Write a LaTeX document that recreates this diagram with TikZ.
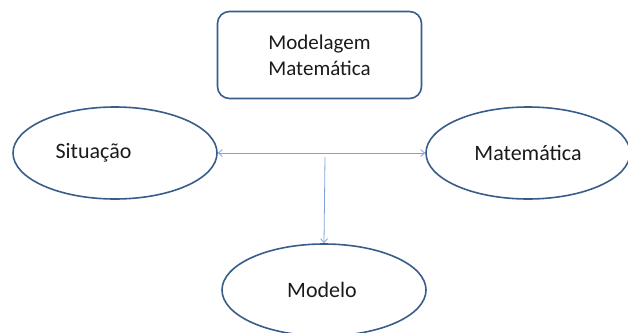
\documentclass[tikz,border=0pt]{standalone}
\usepackage{fontspec}
\setmainfont{Carlito}
\usetikzlibrary{shapes.geometric,arrows.meta}
\definecolor{edgeblue}{HTML}{385D8A}
\definecolor{linkblue}{HTML}{7FA3D6}
\definecolor{txt}{HTML}{1A1A1A}
\begin{document}
\begin{tikzpicture}[x=1pt,y=-1pt,
  oval/.style={ellipse, draw=edgeblue, line width=1.6pt, minimum width=204pt, minimum height=92pt, inner sep=0pt, font=\fontsize{22}{26}\selectfont, text=txt},
  titlebox/.style={rectangle, rounded corners=12pt, draw=edgeblue, line width=1.6pt, minimum width=204pt, minimum height=87pt, align=center, font=\fontsize{21}{26}\selectfont, text=txt},
  link/.style={draw=linkblue, line width=0.8pt, -{Straight Barb[length=4pt,width=7pt]}}
]
\useasboundingbox (0,0) rectangle (628,332);
\clip (0,0) rectangle (628,332);
\node[titlebox] (title) at (319.5,55) {Modelagem\\Matemática};
\node[oval] (sit) at (115,153) {\hspace*{-43pt}Situação};
\node[oval] (mat) at (528,153) {Matemática};
\node[oval] (mod) at (324,290) {\hspace*{-4pt}Modelo};
\draw[link, {Straight Barb[length=4pt,width=7pt]}-{Straight Barb[length=4pt,width=7pt]}] (sit.east) -- (mat.west);
\coordinate (mid) at (325,157);
\draw[link] (mid) -- (mod.north);
\end{tikzpicture}
\end{document}
